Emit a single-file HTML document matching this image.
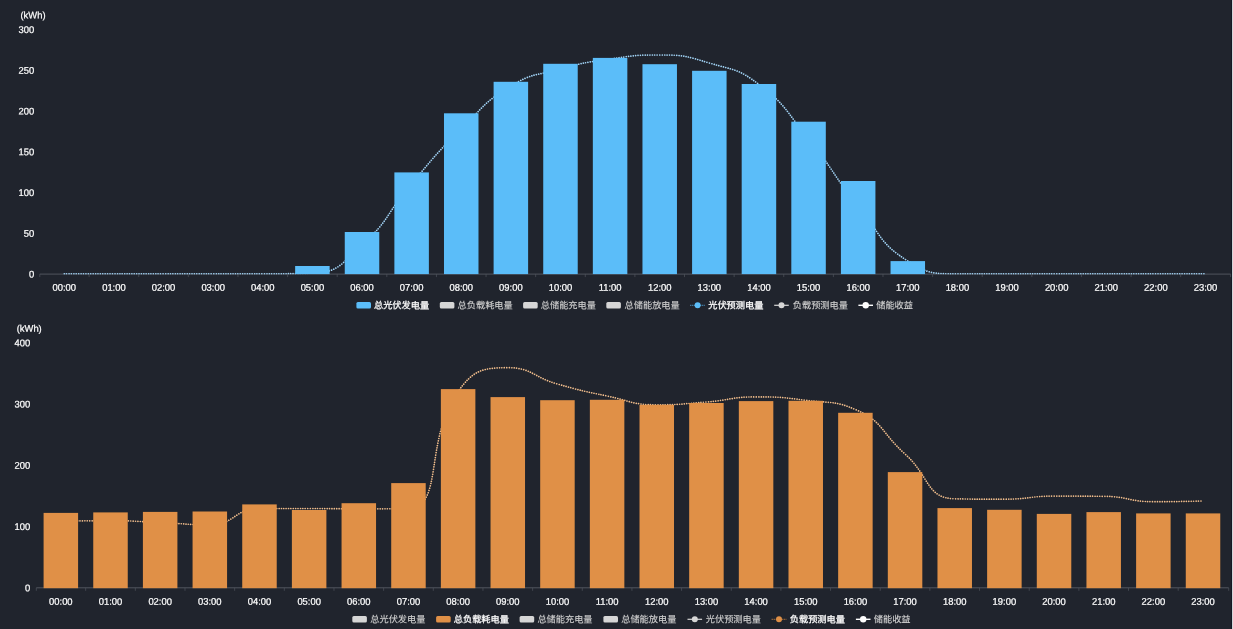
<!DOCTYPE html>
<html lang="zh-CN"><head><meta charset="utf-8"><title>能源统计</title>
<style>
html,body{margin:0;padding:0;background:#20242d;}
body{width:1233px;height:629px;overflow:hidden;position:relative;font-family:"Liberation Sans","Noto Sans CJK SC",sans-serif;}
svg{position:absolute;left:0;top:0;display:block}
text{font-family:"Liberation Sans","Noto Sans CJK SC",sans-serif;text-rendering:geometricPrecision}
.ax{font-size:9.7px;fill:#ffffff;stroke:#ffffff;stroke-width:0.22}
.lg{font-size:9.2px;fill:#d0d0d0;stroke:#d0d0d0;stroke-width:0.12px}
.lg.on{fill:#fff;stroke:#fff;stroke-width:0.25px}
</style></head><body>
<svg width="1233" height="629" viewBox="0 0 1233 629">
<rect x="0" y="0" width="1233" height="629" fill="#20242d"/>
<rect x="1231" y="0" width="1" height="629" fill="#151a24"/>
<rect x="1232" y="0" width="1" height="629" fill="#d4d6da"/>
<g>
<line x1="39.80" y1="274.10" x2="1230.60" y2="274.10" stroke="#5d616a" stroke-width="0.8"/>
<path d="M39.80,274.10 v3.00 M89.12,274.10 v3.00 M138.73,274.10 v3.00 M188.35,274.10 v3.00 M237.97,274.10 v3.00 M287.58,274.10 v3.00 M337.20,274.10 v3.00 M386.82,274.10 v3.00 M436.43,274.10 v3.00 M486.05,274.10 v3.00 M535.67,274.10 v3.00 M585.28,274.10 v3.00 M634.90,274.10 v3.00 M684.52,274.10 v3.00 M734.13,274.10 v3.00 M783.75,274.10 v3.00 M833.37,274.10 v3.00 M882.98,274.10 v3.00 M932.60,274.10 v3.00 M982.22,274.10 v3.00 M1031.83,274.10 v3.00 M1081.45,274.10 v3.00 M1131.07,274.10 v3.00 M1180.68,274.10 v3.00 M1230.60,274.10 v3.00" stroke="#50545d" stroke-width="0.7" fill="none"/>
<text class="ax" transform="translate(34.30 277.57) rotate(0.05) scale(0.97 1)" text-anchor="end">0</text>
<text class="ax" transform="translate(34.30 236.82) rotate(0.05) scale(0.97 1)" text-anchor="end">50</text>
<text class="ax" transform="translate(34.30 196.07) rotate(0.05) scale(0.97 1)" text-anchor="end">100</text>
<text class="ax" transform="translate(34.30 155.32) rotate(0.05) scale(0.97 1)" text-anchor="end">150</text>
<text class="ax" transform="translate(34.30 114.57) rotate(0.05) scale(0.97 1)" text-anchor="end">200</text>
<text class="ax" transform="translate(34.30 73.82) rotate(0.05) scale(0.97 1)" text-anchor="end">250</text>
<text class="ax" transform="translate(34.30 33.07) rotate(0.05) scale(0.97 1)" text-anchor="end">300</text>
<text class="ax" transform="translate(33.00 18.47) rotate(0.05) scale(0.97 1)" text-anchor="middle">(kWh)</text>
<text class="ax" transform="translate(64.31 290.77) rotate(0.05) scale(0.97 1)" text-anchor="middle">00:00</text>
<text class="ax" transform="translate(113.92 290.77) rotate(0.05) scale(0.97 1)" text-anchor="middle">01:00</text>
<text class="ax" transform="translate(163.54 290.77) rotate(0.05) scale(0.97 1)" text-anchor="middle">02:00</text>
<text class="ax" transform="translate(213.16 290.77) rotate(0.05) scale(0.97 1)" text-anchor="middle">03:00</text>
<text class="ax" transform="translate(262.77 290.77) rotate(0.05) scale(0.97 1)" text-anchor="middle">04:00</text>
<text class="ax" transform="translate(312.39 290.77) rotate(0.05) scale(0.97 1)" text-anchor="middle">05:00</text>
<text class="ax" transform="translate(362.01 290.77) rotate(0.05) scale(0.97 1)" text-anchor="middle">06:00</text>
<text class="ax" transform="translate(411.62 290.77) rotate(0.05) scale(0.97 1)" text-anchor="middle">07:00</text>
<text class="ax" transform="translate(461.24 290.77) rotate(0.05) scale(0.97 1)" text-anchor="middle">08:00</text>
<text class="ax" transform="translate(510.86 290.77) rotate(0.05) scale(0.97 1)" text-anchor="middle">09:00</text>
<text class="ax" transform="translate(560.48 290.77) rotate(0.05) scale(0.97 1)" text-anchor="middle">10:00</text>
<text class="ax" transform="translate(610.09 290.77) rotate(0.05) scale(0.97 1)" text-anchor="middle">11:00</text>
<text class="ax" transform="translate(659.71 290.77) rotate(0.05) scale(0.97 1)" text-anchor="middle">12:00</text>
<text class="ax" transform="translate(709.33 290.77) rotate(0.05) scale(0.97 1)" text-anchor="middle">13:00</text>
<text class="ax" transform="translate(758.94 290.77) rotate(0.05) scale(0.97 1)" text-anchor="middle">14:00</text>
<text class="ax" transform="translate(808.56 290.77) rotate(0.05) scale(0.97 1)" text-anchor="middle">15:00</text>
<text class="ax" transform="translate(858.17 290.77) rotate(0.05) scale(0.97 1)" text-anchor="middle">16:00</text>
<text class="ax" transform="translate(907.79 290.77) rotate(0.05) scale(0.97 1)" text-anchor="middle">17:00</text>
<text class="ax" transform="translate(957.41 290.77) rotate(0.05) scale(0.97 1)" text-anchor="middle">18:00</text>
<text class="ax" transform="translate(1007.02 290.77) rotate(0.05) scale(0.97 1)" text-anchor="middle">19:00</text>
<text class="ax" transform="translate(1056.64 290.77) rotate(0.05) scale(0.97 1)" text-anchor="middle">20:00</text>
<text class="ax" transform="translate(1106.26 290.77) rotate(0.05) scale(0.97 1)" text-anchor="middle">21:00</text>
<text class="ax" transform="translate(1155.88 290.77) rotate(0.05) scale(0.97 1)" text-anchor="middle">22:00</text>
<text class="ax" transform="translate(1205.49 290.77) rotate(0.05) scale(0.97 1)" text-anchor="middle">23:00</text>
<clipPath id="cl274"><rect x="0" y="-25.90" width="1233" height="300.35"/></clipPath>
<path clip-path="url(#cl274)" d="M64.31,273.80 C64.31,273.80 89.12,273.80 113.92,273.80 C138.73,273.80 138.73,273.80 163.54,273.80 C188.35,273.80 188.35,273.80 213.16,273.80 C237.97,273.80 237.97,273.80 262.77,273.80 C287.58,273.80 289.32,273.80 312.39,273.20 C338.93,272.51 341.20,263.81 362.01,245.00 C390.82,218.96 385.95,213.51 411.62,183.50 C435.57,155.51 435.00,154.78 461.24,129.00 C484.62,106.03 483.28,102.68 510.86,86.00 C532.89,72.68 535.23,75.87 560.48,69.00 C584.84,62.37 585.08,62.53 610.09,59.00 C634.69,55.53 635.02,55.00 659.71,55.00 C684.64,55.00 685.42,55.89 709.33,63.00 C735.04,70.64 737.94,68.42 758.94,84.50 C787.56,106.42 785.28,110.49 808.56,139.00 C834.89,171.24 831.90,173.70 858.17,206.00 C881.52,234.70 878.46,242.50 907.79,261.00 C928.08,273.80 932.20,273.80 957.41,273.80 C981.82,273.80 982.22,273.80 1007.02,273.80 C1031.83,273.80 1031.83,273.80 1056.64,273.80 C1081.45,273.80 1081.45,273.80 1106.26,273.80 C1131.07,273.80 1131.07,273.80 1155.88,273.80 C1180.68,273.80 1205.49,273.80 1205.49,273.80" fill="none" stroke="#a2d4f6" stroke-width="1.7" stroke-dasharray="0.01 2.4" stroke-linecap="round"/>
<rect x="295.14" y="266.00" width="34.50" height="8.10" fill="#5bbdf9"/>
<rect x="344.76" y="232.00" width="34.50" height="42.10" fill="#5bbdf9"/>
<rect x="394.38" y="172.40" width="34.50" height="101.70" fill="#5bbdf9"/>
<rect x="443.99" y="113.30" width="34.50" height="160.80" fill="#5bbdf9"/>
<rect x="493.61" y="81.80" width="34.50" height="192.30" fill="#5bbdf9"/>
<rect x="543.23" y="63.80" width="34.50" height="210.30" fill="#5bbdf9"/>
<rect x="592.84" y="57.90" width="34.50" height="216.20" fill="#5bbdf9"/>
<rect x="642.46" y="64.20" width="34.50" height="209.90" fill="#5bbdf9"/>
<rect x="692.08" y="70.80" width="34.50" height="203.30" fill="#5bbdf9"/>
<rect x="741.69" y="84.00" width="34.50" height="190.10" fill="#5bbdf9"/>
<rect x="791.31" y="121.70" width="34.50" height="152.40" fill="#5bbdf9"/>
<rect x="840.92" y="181.00" width="34.50" height="93.10" fill="#5bbdf9"/>
<rect x="890.54" y="261.10" width="34.50" height="13.00" fill="#5bbdf9"/>
<rect x="356.40" y="302.00" width="14.60" height="6.60" rx="1.5" fill="#5bbdf9"/>
<text class="lg on" transform="translate(374.00 308.60) rotate(0.05) scale(1 1)" text-anchor="start">总光伏发电量</text>
<rect x="439.80" y="302.00" width="14.60" height="6.60" rx="1.5" fill="#d6d6d6"/>
<text class="lg" transform="translate(457.60 308.60) rotate(0.05) scale(1 1)" text-anchor="start">总负载耗电量</text>
<rect x="523.10" y="302.00" width="14.60" height="6.60" rx="1.5" fill="#d6d6d6"/>
<text class="lg" transform="translate(540.80 308.60) rotate(0.05) scale(1 1)" text-anchor="start">总储能充电量</text>
<rect x="606.30" y="302.00" width="14.60" height="6.60" rx="1.5" fill="#d6d6d6"/>
<text class="lg" transform="translate(624.60 308.60) rotate(0.05) scale(1 1)" text-anchor="start">总储能放电量</text>
<line x1="690.30" y1="305.30" x2="704.90" y2="305.30" stroke="#5bbdf9" stroke-width="1" stroke-dasharray="1 1"/>
<circle cx="697.60" cy="305.30" r="3" fill="#5bbdf9"/>
<text class="lg on" transform="translate(708.20 308.60) rotate(0.05) scale(1 1)" text-anchor="start">光伏预测电量</text>
<line x1="774.20" y1="305.30" x2="788.80" y2="305.30" stroke="#d6d6d6" stroke-width="1.2"/>
<circle cx="781.50" cy="305.30" r="3" fill="#d6d6d6"/>
<text class="lg" transform="translate(792.80 308.60) rotate(0.05) scale(1 1)" text-anchor="start">负载预测电量</text>
<line x1="858.40" y1="305.30" x2="873.00" y2="305.30" stroke="#ffffff" stroke-width="1.4"/>
<circle cx="865.70" cy="305.30" r="3.2" fill="#ffffff"/>
<text class="lg" transform="translate(876.20 308.60) rotate(0.05) scale(1 1)" text-anchor="start" style="fill:#d4d4d4">储能收益</text>
</g>
<g>
<line x1="36.30" y1="587.80" x2="1228.70" y2="587.80" stroke="#5d616a" stroke-width="0.8"/>
<path d="M36.30,587.80 v3.00 M85.67,587.80 v3.00 M135.33,587.80 v3.00 M184.99,587.80 v3.00 M234.65,587.80 v3.00 M284.31,587.80 v3.00 M333.97,587.80 v3.00 M383.63,587.80 v3.00 M433.29,587.80 v3.00 M482.95,587.80 v3.00 M532.61,587.80 v3.00 M582.27,587.80 v3.00 M631.93,587.80 v3.00 M681.59,587.80 v3.00 M731.25,587.80 v3.00 M780.91,587.80 v3.00 M830.57,587.80 v3.00 M880.23,587.80 v3.00 M929.89,587.80 v3.00 M979.55,587.80 v3.00 M1029.21,587.80 v3.00 M1078.87,587.80 v3.00 M1128.53,587.80 v3.00 M1178.19,587.80 v3.00 M1228.70,587.80 v3.00" stroke="#50545d" stroke-width="0.7" fill="none"/>
<text class="ax" transform="translate(30.30 591.27) rotate(0.05) scale(0.97 1)" text-anchor="end">0</text>
<text class="ax" transform="translate(30.30 530.02) rotate(0.05) scale(0.97 1)" text-anchor="end">100</text>
<text class="ax" transform="translate(30.30 468.77) rotate(0.05) scale(0.97 1)" text-anchor="end">200</text>
<text class="ax" transform="translate(30.30 407.52) rotate(0.05) scale(0.97 1)" text-anchor="end">300</text>
<text class="ax" transform="translate(30.30 346.27) rotate(0.05) scale(0.97 1)" text-anchor="end">400</text>
<text class="ax" transform="translate(29.20 331.87) rotate(0.05) scale(0.97 1)" text-anchor="middle">(kWh)</text>
<text class="ax" transform="translate(60.84 604.87) rotate(0.05) scale(0.97 1)" text-anchor="middle">00:00</text>
<text class="ax" transform="translate(110.50 604.87) rotate(0.05) scale(0.97 1)" text-anchor="middle">01:00</text>
<text class="ax" transform="translate(160.16 604.87) rotate(0.05) scale(0.97 1)" text-anchor="middle">02:00</text>
<text class="ax" transform="translate(209.82 604.87) rotate(0.05) scale(0.97 1)" text-anchor="middle">03:00</text>
<text class="ax" transform="translate(259.48 604.87) rotate(0.05) scale(0.97 1)" text-anchor="middle">04:00</text>
<text class="ax" transform="translate(309.14 604.87) rotate(0.05) scale(0.97 1)" text-anchor="middle">05:00</text>
<text class="ax" transform="translate(358.80 604.87) rotate(0.05) scale(0.97 1)" text-anchor="middle">06:00</text>
<text class="ax" transform="translate(408.46 604.87) rotate(0.05) scale(0.97 1)" text-anchor="middle">07:00</text>
<text class="ax" transform="translate(458.12 604.87) rotate(0.05) scale(0.97 1)" text-anchor="middle">08:00</text>
<text class="ax" transform="translate(507.78 604.87) rotate(0.05) scale(0.97 1)" text-anchor="middle">09:00</text>
<text class="ax" transform="translate(557.44 604.87) rotate(0.05) scale(0.97 1)" text-anchor="middle">10:00</text>
<text class="ax" transform="translate(607.10 604.87) rotate(0.05) scale(0.97 1)" text-anchor="middle">11:00</text>
<text class="ax" transform="translate(656.76 604.87) rotate(0.05) scale(0.97 1)" text-anchor="middle">12:00</text>
<text class="ax" transform="translate(706.42 604.87) rotate(0.05) scale(0.97 1)" text-anchor="middle">13:00</text>
<text class="ax" transform="translate(756.08 604.87) rotate(0.05) scale(0.97 1)" text-anchor="middle">14:00</text>
<text class="ax" transform="translate(805.74 604.87) rotate(0.05) scale(0.97 1)" text-anchor="middle">15:00</text>
<text class="ax" transform="translate(855.40 604.87) rotate(0.05) scale(0.97 1)" text-anchor="middle">16:00</text>
<text class="ax" transform="translate(905.06 604.87) rotate(0.05) scale(0.97 1)" text-anchor="middle">17:00</text>
<text class="ax" transform="translate(954.72 604.87) rotate(0.05) scale(0.97 1)" text-anchor="middle">18:00</text>
<text class="ax" transform="translate(1004.38 604.87) rotate(0.05) scale(0.97 1)" text-anchor="middle">19:00</text>
<text class="ax" transform="translate(1054.04 604.87) rotate(0.05) scale(0.97 1)" text-anchor="middle">20:00</text>
<text class="ax" transform="translate(1103.70 604.87) rotate(0.05) scale(0.97 1)" text-anchor="middle">21:00</text>
<text class="ax" transform="translate(1153.36 604.87) rotate(0.05) scale(0.97 1)" text-anchor="middle">22:00</text>
<text class="ax" transform="translate(1203.02 604.87) rotate(0.05) scale(0.97 1)" text-anchor="middle">23:00</text>
<clipPath id="cl587"><rect x="0" y="287.80" width="1233" height="300.35"/></clipPath>
<path clip-path="url(#cl587)" d="M60.84,521.20 C60.84,521.20 85.68,520.70 110.50,520.70 C135.34,520.70 135.34,521.48 160.16,522.50 C185.00,523.53 185.61,524.80 209.82,524.80 C235.27,524.80 234.01,508.50 259.48,508.50 C283.67,508.50 284.31,508.50 309.14,508.50 C333.97,508.50 333.97,508.80 358.80,508.80 C383.63,508.80 394.51,508.80 408.46,508.50 C444.17,507.73 423.47,440.62 458.12,391.50 C473.13,370.22 482.30,367.70 507.78,367.70 C531.96,367.70 532.33,376.84 557.44,384.00 C581.99,390.99 582.11,390.77 607.10,396.00 C631.77,401.17 631.76,404.80 656.76,404.80 C681.42,404.80 681.64,403.97 706.42,402.00 C731.30,400.02 731.21,396.90 756.08,396.90 C780.87,396.90 781.09,397.17 805.74,400.30 C830.75,403.47 834.00,400.30 855.40,409.50 C883.66,421.65 880.27,431.71 905.06,454.00 C929.93,476.36 926.22,498.26 954.72,498.80 C975.88,499.20 979.57,499.20 1004.38,499.20 C1029.23,499.20 1029.19,496.10 1054.04,496.10 C1078.85,496.10 1078.94,496.10 1103.70,496.30 C1128.60,496.50 1128.46,501.70 1153.36,501.70 C1178.12,501.70 1203.02,501.00 1203.02,501.00" fill="none" stroke="#f0bd8c" stroke-width="1.7" stroke-dasharray="0.01 2.4" stroke-linecap="round"/>
<rect x="43.59" y="512.90" width="34.50" height="75.30" fill="#e09047"/>
<rect x="93.25" y="512.40" width="34.50" height="75.80" fill="#e09047"/>
<rect x="142.91" y="511.90" width="34.50" height="76.30" fill="#e09047"/>
<rect x="192.57" y="511.50" width="34.50" height="76.70" fill="#e09047"/>
<rect x="242.23" y="504.40" width="34.50" height="83.80" fill="#e09047"/>
<rect x="291.89" y="510.00" width="34.50" height="78.20" fill="#e09047"/>
<rect x="341.55" y="503.20" width="34.50" height="85.00" fill="#e09047"/>
<rect x="391.21" y="483.10" width="34.50" height="105.10" fill="#e09047"/>
<rect x="440.87" y="389.10" width="34.50" height="199.10" fill="#e09047"/>
<rect x="490.53" y="397.10" width="34.50" height="191.10" fill="#e09047"/>
<rect x="540.19" y="400.20" width="34.50" height="188.00" fill="#e09047"/>
<rect x="589.85" y="399.80" width="34.50" height="188.40" fill="#e09047"/>
<rect x="639.51" y="404.90" width="34.50" height="183.30" fill="#e09047"/>
<rect x="689.17" y="403.00" width="34.50" height="185.20" fill="#e09047"/>
<rect x="738.83" y="401.10" width="34.50" height="187.10" fill="#e09047"/>
<rect x="788.49" y="400.80" width="34.50" height="187.40" fill="#e09047"/>
<rect x="838.15" y="412.80" width="34.50" height="175.40" fill="#e09047"/>
<rect x="887.81" y="472.10" width="34.50" height="116.10" fill="#e09047"/>
<rect x="937.47" y="508.10" width="34.50" height="80.10" fill="#e09047"/>
<rect x="987.13" y="509.80" width="34.50" height="78.40" fill="#e09047"/>
<rect x="1036.79" y="513.90" width="34.50" height="74.30" fill="#e09047"/>
<rect x="1086.45" y="512.10" width="34.50" height="76.10" fill="#e09047"/>
<rect x="1136.11" y="513.40" width="34.50" height="74.80" fill="#e09047"/>
<rect x="1185.77" y="513.40" width="34.50" height="74.80" fill="#e09047"/>
<rect x="352.30" y="616.00" width="14.60" height="6.60" rx="1.5" fill="#d6d6d6"/>
<text class="lg" transform="translate(370.30 622.60) rotate(0.05) scale(1 1)" text-anchor="start">总光伏发电量</text>
<rect x="436.10" y="616.00" width="14.60" height="6.60" rx="1.5" fill="#e09047"/>
<text class="lg on" transform="translate(453.80 622.60) rotate(0.05) scale(1 1)" text-anchor="start">总负载耗电量</text>
<rect x="519.60" y="616.00" width="14.60" height="6.60" rx="1.5" fill="#d6d6d6"/>
<text class="lg" transform="translate(537.40 622.60) rotate(0.05) scale(1 1)" text-anchor="start">总储能充电量</text>
<rect x="603.40" y="616.00" width="14.60" height="6.60" rx="1.5" fill="#d6d6d6"/>
<text class="lg" transform="translate(621.20 622.60) rotate(0.05) scale(1 1)" text-anchor="start">总储能放电量</text>
<line x1="687.50" y1="619.30" x2="702.10" y2="619.30" stroke="#d6d6d6" stroke-width="1.2"/>
<circle cx="694.80" cy="619.30" r="3" fill="#d6d6d6"/>
<text class="lg" transform="translate(705.80 622.60) rotate(0.05) scale(1 1)" text-anchor="start">光伏预测电量</text>
<line x1="771.70" y1="619.30" x2="786.30" y2="619.30" stroke="#e09047" stroke-width="1" stroke-dasharray="1 1"/>
<circle cx="779.00" cy="619.30" r="3" fill="#e09047"/>
<text class="lg on" transform="translate(789.80 622.60) rotate(0.05) scale(1 1)" text-anchor="start">负载预测电量</text>
<line x1="855.90" y1="619.30" x2="870.50" y2="619.30" stroke="#ffffff" stroke-width="1.4"/>
<circle cx="863.20" cy="619.30" r="3.2" fill="#ffffff"/>
<text class="lg" transform="translate(873.80 622.60) rotate(0.05) scale(1 1)" text-anchor="start" style="fill:#d4d4d4">储能收益</text>
</g>
</svg>
</body></html>
